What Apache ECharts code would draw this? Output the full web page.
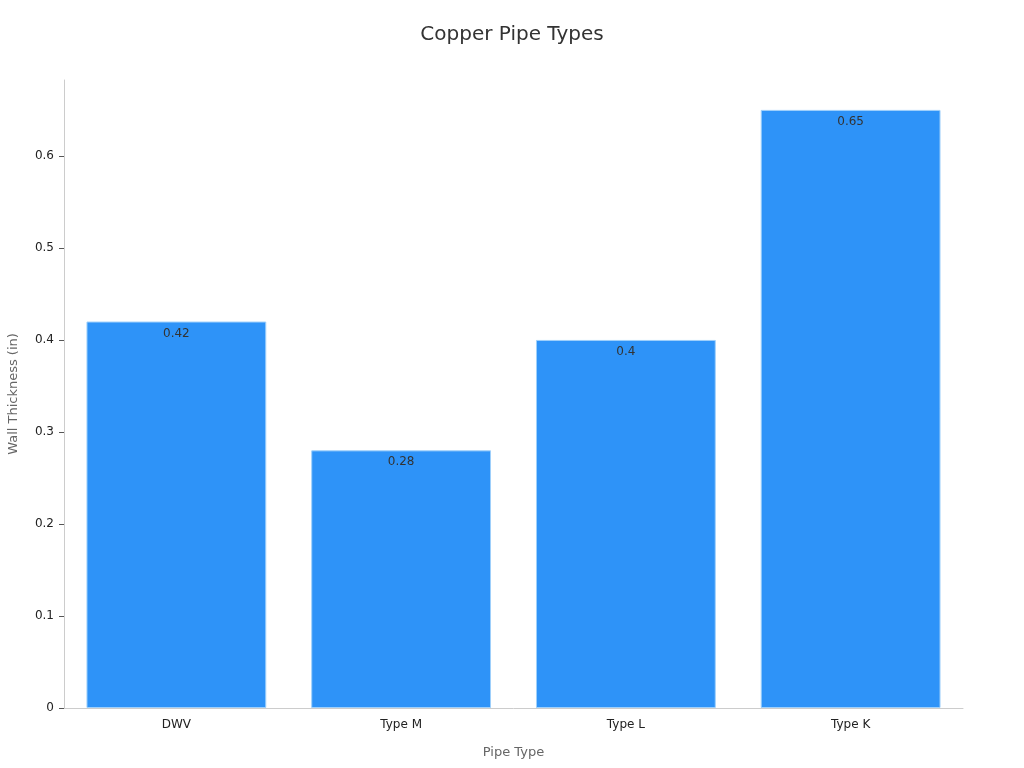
<!DOCTYPE html>
<html><head><meta charset="utf-8">
<script src="https://cdn.jsdelivr.net/npm/echarts@6/dist/echarts.min.js"></script>
<style>html,body{margin:0;padding:0;background:#fff}#c{width:1024px;height:768px}</style>
</head><body><div id="c"></div>
<script>
const categories = ["DWV", "Type M", "Type L", "Type K"];
const wallThickness = [0.42, 0.28, 0.4, 0.65];
const yTicks = [0, 0.1, 0.2, 0.3, 0.4, 0.5, 0.6];

const chart = echarts.init(document.getElementById('c'));
chart.setOption({
  backgroundColor: '#fff',
  title: { text: 'Copper Pipe Types', left: 'center', top: 20,
    textStyle: { fontFamily: 'DejaVu Sans', fontSize: 20, fontWeight: 'normal', color: '#333' } },
  grid: { left: 64, right: 61, top: 80, bottom: 60, containLabel: false, outerBoundsMode: 'none' },
  xAxis: {
    type: 'category', data: categories,
    name: 'Pipe Type', nameLocation: 'middle', nameGap: 38,
    nameTextStyle: { fontFamily: 'DejaVu Sans', fontSize: 13, color: '#666' },
    axisLine: { lineStyle: { color: '#ccc' } },
    axisTick: { alignWithLabel: true, lineStyle: { color: '#555' } },
    axisLabel: { fontFamily: 'DejaVu Sans', fontSize: 12, color: '#222', margin: 11 }
  },
  yAxis: {
    type: 'value', min: 0, max: function (v) { return v.max * 1.05; },
    name: 'Wall Thickness (in)', nameLocation: 'middle', nameGap: 44,
    nameTextStyle: { fontFamily: 'DejaVu Sans', fontSize: 13, color: '#666' },
    axisLine: { show: true, lineStyle: { color: '#ccc' } },
    axisTick: { show: true, customValues: yTicks, lineStyle: { color: '#555' } },
    axisLabel: { customValues: yTicks, fontFamily: 'DejaVu Sans', fontSize: 12, color: '#222', margin: 10 },
    splitLine: { show: false }
  },
  series: [{
    type: 'bar', data: wallThickness, barWidth: '80%',
    itemStyle: { color: '#2E93F8', borderColor: '#9fd0fb', borderWidth: 1 },
    label: { show: true, position: 'insideTop', offset: [0, 1], fontFamily: 'DejaVu Sans', fontSize: 12, color: '#333' }
  }]
});
</script></body></html>
